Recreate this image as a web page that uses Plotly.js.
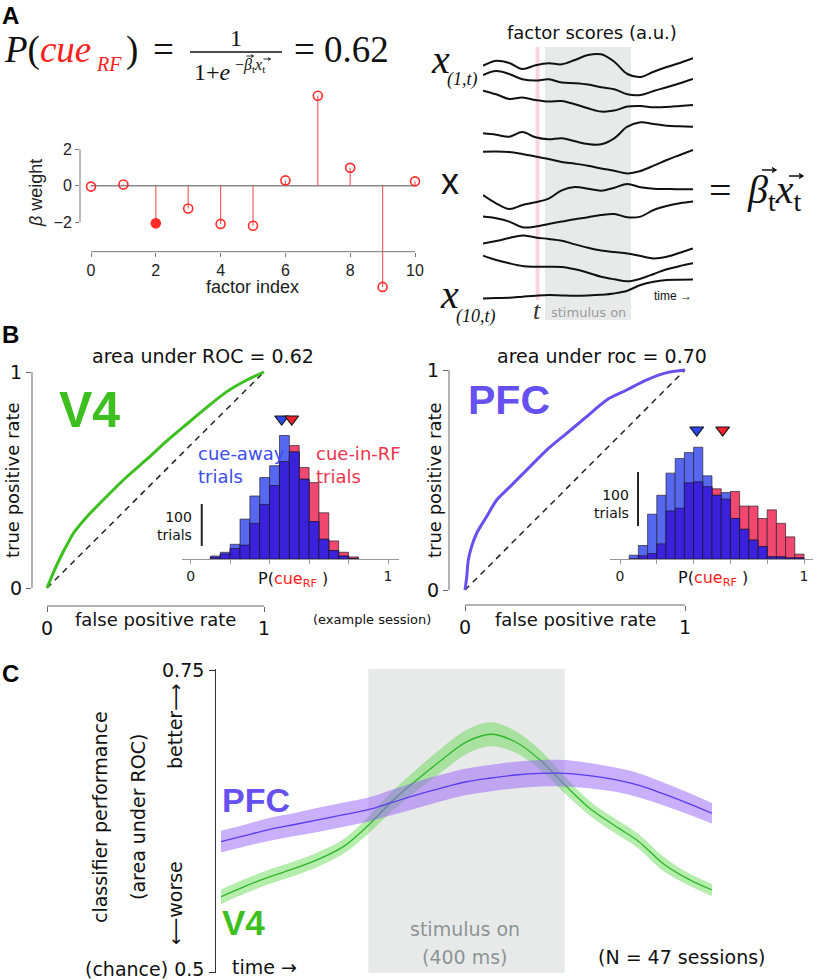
<!DOCTYPE html>
<html><head><meta charset="utf-8">
<script src="https://cdn.plot.ly/plotly-3.0.1.min.js"></script>
<style>html,body{margin:0;padding:0;background:#fff}</style>
</head><body><div id="chart" style="width:817px;height:980px"></div>
<script>
// ================= DATA =================
// Panel A: logistic classifier weights
const factorIndex = [0,1,2,3,4,5,6,7,8,9,10];
const betaWeight  = [-0.05,0.07,-2.07,-1.25,-2.1,-2.2,0.29,4.94,0.98,-5.56,0.24];
const highlightedFactor = 2;

// Panel A: factor scores (a.u.) over time (0 = start, 1 = end of window)
const factorTime = [0,0.0625,0.125,0.1875,0.25,0.3125,0.375,0.4375,0.5,0.5625,0.625,0.6875,0.75,0.8125,0.875,0.9375,1];
const factor1  = [-0.07,0.43,0.2,-0.4,-0.03,0.17,0.07,0.5,1.0,1.07,0.33,-0.9,-1.2,-0.67,-0.2,0.2,0.67];
const factor2  = [0.83,1.23,0.93,0.4,0.27,0.4,0.07,0,-0.13,-0.4,-0.6,-1.1,-1.17,-0.77,-0.4,0,0.43];
const factor3  = [1.27,0.9,0.43,0.57,0.33,0.17,0.23,-0.1,-0.5,-0.83,-0.73,-0.33,-0.27,-0.4,-0.37,-0.27,-0.17];
const factor4  = [0.17,0.03,-0.17,0.3,-0.23,-0.43,-0.33,-0.63,-0.9,-0.93,-0.33,0.83,1.27,1.1,0.93,0.87,0.83];
const factor5  = [1.0,1.03,0.97,0.77,0.53,0.27,-0.03,-0.2,-0.4,-0.67,-0.9,-1.17,-0.93,-0.4,0.17,0.67,1.17];
const factor6  = [0,-0.83,-1.4,-1.0,-0.73,-0.37,0.47,0.8,0.63,0.43,0.73,1.1,0.77,0.63,0.6,0.57,0.57];
const factor7  = [0.17,0,-0.33,-0.9,-0.83,-0.57,-0.33,-0.1,0.1,0.33,0.43,0.1,0.17,0.83,1.23,1.5,1.67];
const factor8  = [0.33,0.57,0.87,1.13,0.93,0.77,0.6,0.23,-0.1,-0.37,-0.53,-0.67,-0.93,-1.17,-1.0,-0.6,-0.17];
const factor9  = [1.43,1.0,0.67,0.4,0.33,0.33,0.3,0.07,-0.27,-0.67,-0.93,-1.13,-0.87,-0.4,0.07,0.4,0.67];
const factor10 = [-0.67,-0.63,-0.6,-0.5,-0.4,-0.33,-0.37,-0.4,-0.37,-0.3,-0.17,0.1,0.67,1.0,1.17,1.2,1.23];
const factorStim = [0.295, 0.705];
const factorT = 0.26;

// Panel B: ROC curves
const rocFprV4  = [0,0.031,0.061,0.092,0.123,0.184,0.276,0.368,0.459,0.551,0.643,0.735,0.827,0.919,1];
const rocTprV4  = [0,0.075,0.14,0.2,0.255,0.33,0.425,0.515,0.595,0.68,0.758,0.835,0.908,0.962,1];
const rocFprPFC = [0,0.008,0.015,0.030,0.053,0.098,0.144,0.205,0.280,0.371,0.462,0.553,0.644,0.735,0.826,0.917,1];
const rocTprPFC = [0,0.061,0.136,0.197,0.258,0.333,0.409,0.470,0.545,0.636,0.712,0.788,0.864,0.909,0.955,0.988,1];

// Panel B: histograms of P(cue_RF), trials per bin (bin width 0.05)
const v4BinCenters  = [0.125,0.175,0.225,0.275,0.325,0.375,0.425,0.475,0.525,0.575,0.625,0.675,0.725,0.775,0.825];
const v4CueAway     = [7,16,35,95,150,194,222,294,255,190,89,47,20,7,1];
const v4CueInRF     = [4,12,25,33,85,130,175,232,270,218,182,110,43,16,5];
const pfcBinCenters = [0.075,0.125,0.175,0.225,0.275,0.325,0.375,0.425,0.475,0.525,0.575,0.625,0.675,0.725,0.775,0.825,0.875,0.925,0.975];
const pfcCueAway    = [7,25,83,118,159,186,197,207,154,118,123,75,55,35,23,4,4,2,2];
const pfcCueInRF    = [0,6,10,28,89,94,141,143,134,130,111,125,98,98,75,91,66,41,9];
const v4Means  = [0.461, 0.512];   // [cue-away, cue-in-RF]
const pfcMeans = [0.417, 0.558];

// Panel C: classifier performance over time
const timeMs = [-300,-250,-200,-150,-100,-50,0,50,100,150,200,250,300,350,400,450,500,550,600,650,700];
const v4Auc  = [0.5623,0.5711,0.5790,0.5857,0.5936,0.6040,0.6215,0.6420,0.6594,0.6757,0.6905,0.6968,0.6904,0.6755,0.6550,0.6358,0.6217,0.6083,0.5899,0.5773,0.5679];
const v4Sem  = [0.006,0.006,0.006,0.006,0.006,0.006,0.007,0.008,0.009,0.010,0.010,0.010,0.009,0.008,0.007,0.006,0.006,0.006,0.006,0.005,0.005];
const pfcAuc = [0.6079,0.6131,0.6181,0.6221,0.6262,0.6303,0.6344,0.6406,0.6468,0.6525,0.6575,0.6606,0.6631,0.6645,0.6645,0.6626,0.6594,0.6546,0.6476,0.6398,0.6314];
const pfcSem = [0.009,0.009,0.0095,0.0095,0.010,0.010,0.010,0.0105,0.011,0.011,0.011,0.011,0.011,0.011,0.011,0.0105,0.010,0.010,0.0095,0.009,0.0085];
const stimWindowMs = [0, 400];
const aucTickVals = [0.5, 0.75];
const aucTickText = ['(chance) 0.5', '0.75'];

// ================= LAYOUT HELPERS =================
const W = 817, H = 980;
const X = p => p / W, Y = p => 1 - p / H;
function hAxis(pA, pB, vA, vB, dL, dR) {
  const s = (pB - pA) / (vB - vA);
  return {domain: [dL / W, dR / W], range: [vA + (dL - pA) / s, vA + (dR - pA) / s]};
}
function vAxis(pA, pB, vA, vB, dT, dB) {
  const s = (pA - pB) / (vB - vA);
  return {domain: [1 - dB / H, 1 - dT / H], range: [vA - (dB - pA) / s, vA + (pA - dT) / s]};
}
const SANS = 'DejaVu Sans', ARIAL = 'Liberation Sans', SERIF = 'Liberation Serif';
const GREEN = '#3dbf1f', PURPLE = '#6650f0', RED = '#ff2a2a';
const BLUE_ONLY = '#5668f0', OVERLAP = '#3a22dc', RED_ONLY = '#f0486e';

const traces = [];
const shapes = [];
const ann = [];
function A(text, x, y, o) { ann.push(Object.assign({text, x: X(x), y: Y(y), xref: 'paper', yref: 'paper', showarrow: false, xanchor: 'center', yanchor: 'middle', font: {family: SANS, size: 18, color: '#111'}}, o || {})); }
// small vector arrow (math notation) drawn as a shape path
function vec(cx, cy, len, head, w) {
  const x0 = X(cx - len / 2), x1 = X(cx + len / 2), y = Y(cy), hx = X(cx + len / 2 - head), hy = head * 0.6 / H;
  shapes.push({type: 'path', xref: 'paper', yref: 'paper', path: `M ${x0},${y} L ${x1},${y} M ${hx},${y + hy} L ${x1},${y} L ${hx},${y - hy}`, line: {color: '#111', width: w}});
}

const baseAxis = {showgrid: false, zeroline: false, showline: false, ticks: '', fixedrange: true, ticklabeloverflow: 'allow'};

// ---------- Panel A: stem plot ----------
const ax1x = hAxis(91, 415, 0, 10, 80, 425), ax1y = vAxis(185.7, 149.3, 0, 2, 85, 300);
const stemX = [], stemY = [];
factorIndex.forEach((f, i) => { stemX.push(f, f, null); stemY.push(0, betaWeight[i], null); });
traces.push({x: stemX, y: stemY, mode: 'lines', line: {color: 'rgba(240,70,70,0.85)', width: 1.2}, xaxis: 'x', yaxis: 'y', hoverinfo: 'skip'});
traces.push({x: factorIndex, y: betaWeight, mode: 'markers', cliponaxis: false, xaxis: 'x', yaxis: 'y',
  marker: {symbol: factorIndex.map(f => f === highlightedFactor ? 'circle' : 'circle-open'), size: 9, color: RED, line: {color: RED, width: 1.6}}});
shapes.push({type: 'line', xref: 'x', yref: 'y', x0: 0, x1: 10, y0: 0, y1: 0, line: {color: '#8a8a8a', width: 1.5}, layer: 'below'});
shapes.push({type: 'line', xref: 'x domain', yref: 'y', x0: 0, x1: 0, y0: -2, y1: 2, line: {color: '#777', width: 1}});
shapes.push({type: 'line', xref: 'x', yref: 'paper', x0: 0, x1: 10, y0: Y(251.7), y1: Y(251.7), line: {color: '#777', width: 1}});

// ---------- Panel A: factor scores ----------
const factorRowPx = [65, 83.3, 103.3, 135, 161.7, 195, 218.3, 246.7, 270, 291.7];
const pxPerAU = 10;
[factor1, factor2, factor3, factor4, factor5, factor6, factor7, factor8, factor9, factor10].forEach((f, i) => {
  traces.push({x: factorTime, y: f.map(v => -factorRowPx[i] + v * pxPerAU), mode: 'lines', line: {color: '#111', width: 2, shape: 'spline', smoothing: 1}, xaxis: 'x2', yaxis: 'y2', hoverinfo: 'skip'});
});
shapes.push({type: 'rect', xref: 'x2', yref: 'y2', x0: factorStim[0], x1: factorStim[1], y0: -320, y1: -47, fillcolor: '#e8eaea', line: {width: 0}, layer: 'below'});
shapes.push({type: 'line', xref: 'x2', yref: 'y2', x0: factorT, x1: factorT, y0: -300, y1: -47, line: {color: '#fbd3e1', width: 4}, layer: 'below'});

// ---------- Panel B: ROC ----------
function roc(fpr, tpr, color, xa, ya) {
  traces.push({x: [0, 1], y: [0, 1], mode: 'lines', line: {color: '#222', width: 1.5, dash: '6px,5px'}, xaxis: xa, yaxis: ya, hoverinfo: 'skip'});
  traces.push({x: fpr, y: tpr, mode: 'lines', line: {color, width: 3, shape: 'spline', smoothing: 0.8}, xaxis: xa, yaxis: ya, hoverinfo: 'skip'});
  shapes.push({type: 'line', xref: xa + ' domain', yref: ya, x0: 0, x1: 0, y0: 0, y1: 1, line: {color: '#666', width: 1}});
  shapes.push({type: 'line', xref: xa, yref: ya + ' domain', x0: 0, x1: 1, y0: 0, y1: 0, line: {color: '#666', width: 1}});
}
roc(rocFprV4, rocTprV4, GREEN, 'x3', 'y3');
roc(rocFprPFC, rocTprPFC, PURPLE, 'x5', 'y5');

// ---------- Panel B: histograms ----------
function hist(centers, away, inrf, means, xa, ya, triY, scaleX, scaleY0) {
  const common = {type: 'bar', x: centers, width: 0.05, xaxis: xa, yaxis: ya, hoverinfo: 'skip'};
  traces.push(Object.assign({}, common, {y: inrf, marker: {color: RED_ONLY, line: {color: 'rgba(40,30,40,0.85)', width: 0.8}}}));
  traces.push(Object.assign({}, common, {y: away, marker: {color: BLUE_ONLY, line: {color: 'rgba(40,30,40,0.85)', width: 0.8}}}));
  traces.push(Object.assign({}, common, {y: away.map((v, i) => Math.min(v, inrf[i])), marker: {color: OVERLAP, line: {color: 'rgba(30,20,40,0.85)', width: 0.8}}}));
  traces.push({x: means, y: [triY, triY], mode: 'markers', cliponaxis: false, xaxis: xa, yaxis: ya, hoverinfo: 'skip',
    marker: {symbol: 'triangle-down', size: 12, color: ['#2f45ee', '#f0202c'], line: {color: '#111', width: 1.2}}});
  shapes.push({type: 'line', xref: xa, yref: ya, x0: scaleX, x1: scaleX, y0: scaleY0, y1: scaleY0 + 100, line: {color: '#222', width: 2}});
}
const ax4x = hAxis(190.7, 388, 0, 1, 182, 399), ax4y = vAxis(559, 517, 0, 100, 400, 559);
const ax6x = hAxis(620, 804, 0, 1, 610, 813), ax6y = vAxis(559, 505, 0, 100, 400, 559);
hist(v4BinCenters, v4CueAway, v4CueInRF, v4Means, 'x4', 'y4', (559 - 419) / 0.42, 0.056, 31);
hist(pfcBinCenters, pfcCueAway, pfcCueInRF, pfcMeans, 'x6', 'y6', (559 - 430) / 0.54, 0.098, 61);

// ---------- Panel C ----------
function band(mean, sem, fill, line, xa, ya) {
  const up = mean.map((m, i) => m + sem[i]), lo = mean.map((m, i) => m - sem[i]);
  traces.push({x: timeMs, y: lo, mode: 'lines', line: {width: 0, shape: 'spline'}, xaxis: xa, yaxis: ya, hoverinfo: 'skip'});
  traces.push({x: timeMs, y: up, mode: 'lines', fill: 'tonexty', fillcolor: fill, line: {width: 0, shape: 'spline'}, xaxis: xa, yaxis: ya, hoverinfo: 'skip'});
  traces.push({x: timeMs, y: mean, mode: 'lines', line: {color: line, width: 1.3, shape: 'spline'}, xaxis: xa, yaxis: ya, hoverinfo: 'skip'});
}
band(v4Auc, v4Sem, 'rgba(90,215,70,0.45)', '#2eb52a', 'x7', 'y7');
band(pfcAuc, pfcSem, 'rgba(150,95,245,0.5)', '#5a3cf0', 'x7', 'y7');
const ax7x = hAxis(221, 712, -300, 700, 216, 716), ax7y = vAxis(972, 670, 0.5, 0.75, 669, 973);
shapes.push({type: 'rect', xref: 'x7', yref: 'y7 domain', x0: stimWindowMs[0], x1: stimWindowMs[1], y0: 0, y1: 1, fillcolor: '#e8eaea', line: {width: 0}, layer: 'below'});
aucTickVals.forEach((v, i) => {
  ann.push({text: aucTickText[i], xref: 'paper', yref: 'y7', x: X(206), y: v, yshift: i === 0 ? 3 : 0, showarrow: false, xanchor: 'right', yanchor: 'middle', font: {family: SANS, size: 19, color: '#111'}});
});

// ---------- Annotations ----------
A('<b>A</b>', 10, 16, {font: {family: ARIAL, size: 24, color: '#000'}});
A('<b>B</b>', 10, 334, {font: {family: ARIAL, size: 24, color: '#000'}});
A('<b>C</b>', 10, 673, {font: {family: ARIAL, size: 24, color: '#000'}});

// formula
A('<i>P</i>(<span style="color:#ff2020"><i>cue</i></span>', 2, 50, {xanchor: 'left', font: {family: SERIF, size: 37, color: '#111'}});
A('<i>RF</i>', 94, 64, {xanchor: 'left', font: {family: SERIF, size: 20, color: '#ff2020'}});
A(')', 124, 50, {xanchor: 'left', font: {family: SERIF, size: 37, color: '#111'}});
A('=', 163, 50, {font: {family: SERIF, size: 37, color: '#111'}});
A('1', 236, 38, {font: {family: SERIF, size: 24, color: '#111'}});
shapes.push({type: 'line', xref: 'paper', yref: 'paper', x0: X(190), x1: X(282), y0: Y(52), y1: Y(52), line: {color: '#111', width: 1.3}});
A('1+<i>e</i>', 233, 72, {xanchor: 'right', font: {family: SERIF, size: 24, color: '#111'}});
A('−<i>β</i><sub>t</sub><i>x</i><sub>t</sub>', 233, 65, {xanchor: 'left', font: {family: SERIF, size: 16, color: '#111'}});
vec(250, 56, 7, 2.5, 0.9);
vec(267, 59, 7, 2.5, 0.9);
A('= 0.62', 292, 50, {xanchor: 'left', font: {family: SERIF, size: 37, color: '#111'}});

// stem axes labels
A('<i>β</i> weight', 36, 193, {textangle: -90, font: {family: ARIAL, size: 18, color: '#222'}});
A('factor index', 252, 287, {font: {family: ARIAL, size: 18, color: '#222'}});

// factor scores labels
A('factor scores (a.u.)', 592, 33, {font: {family: SANS, size: 18, color: '#111'}});
A('<i>x</i>', 440, 60, {font: {family: SERIF, size: 40, color: '#111'}});
A('<i>(1,t)</i>', 445, 80, {xanchor: 'left', font: {family: SERIF, size: 18, color: '#111'}});
A('<i>x</i>', 450, 294, {font: {family: SERIF, size: 40, color: '#111'}});
A('<i>(10,t)</i>', 454, 316, {xanchor: 'left', font: {family: SERIF, size: 18, color: '#111'}});
A('x', 450, 181, {font: {family: ARIAL, size: 36, color: '#111'}});
A('=', 720, 190, {font: {family: SERIF, size: 40, color: '#111'}});
A('<i>β</i><sub>t</sub><i>x</i><sub>t</sub>', 745, 192, {xanchor: 'left', font: {family: SERIF, size: 40, color: '#111'}});
vec(769, 170, 14, 4, 1.3);
vec(796, 176, 14, 4, 1.3);
A('<i>t</i>', 537, 311, {font: {family: SERIF, size: 26, color: '#333'}});
A('stimulus on', 588, 312, {font: {family: SANS, size: 13, color: '#9a9a9a'}});
A('time →', 673, 296, {font: {family: ARIAL, size: 12, color: '#111'}});

// panel B
A('area under ROC = 0.62', 203, 356, {font: {family: SANS, size: 19, color: '#111'}});
A('area under roc = 0.70', 602, 356, {font: {family: SANS, size: 19, color: '#111'}});
A('<b>V4</b>', 57, 410, {xanchor: 'left', font: {family: ARIAL, size: 50, color: GREEN}});
A('<b>PFC</b>', 466, 400, {xanchor: 'left', font: {family: ARIAL, size: 41, color: PURPLE}});
A('true positive rate', 12, 480, {textangle: -90, font: {family: SANS, size: 18, color: '#111'}});
A('true positive rate', 434, 480, {textangle: -90, font: {family: SANS, size: 18, color: '#111'}});
A('false positive rate', 155, 619, {font: {family: SANS, size: 18, color: '#111'}});
A('false positive rate', 575, 619, {font: {family: SANS, size: 18, color: '#111'}});
A('(example session)', 372, 619, {font: {family: SANS, size: 13, color: '#111'}});
A('cue-away<br>trials', 196, 465, {xanchor: 'left', align: 'left', font: {family: SANS, size: 18, color: '#3b4cf0'}});
A('cue-in-RF<br>trials', 314, 465, {xanchor: 'left', align: 'left', font: {family: SANS, size: 18, color: '#f0334f'}});
A('100<br>trials', 194, 526, {xanchor: 'right', align: 'right', font: {family: SANS, size: 14, color: '#111'}});
A('100<br>trials', 631, 504, {xanchor: 'right', align: 'right', font: {family: SANS, size: 14, color: '#111'}});
A('P(<span style="color:#ff2020">cue<sub>RF</sub></span> )', 293, 579, {font: {family: SANS, size: 16, color: '#111'}});
A('P(<span style="color:#ff2020">cue<sub>RF</sub></span> )', 713, 578, {font: {family: SANS, size: 16, color: '#111'}});

// panel C
A('classifier performance', 100, 817, {textangle: -90, font: {family: SANS, size: 19, color: '#111'}});
A('(area under ROC)', 138, 817, {textangle: -90, font: {family: SANS, size: 19, color: '#111'}});
A('better⟶', 175, 727, {textangle: -90, font: {family: SANS, size: 19, color: '#111'}});
A('⟵worse', 175, 903, {textangle: -90, font: {family: SANS, size: 19, color: '#111'}});
A('<b>PFC</b>', 220, 800, {xanchor: 'left', font: {family: ARIAL, size: 34, color: PURPLE}});
A('<b>V4</b>', 220, 922, {xanchor: 'left', font: {family: ARIAL, size: 35, color: GREEN}});
A('stimulus on', 465, 929, {font: {family: SANS, size: 19, color: '#8c9494'}});
A('(400 ms)', 465, 957, {font: {family: SANS, size: 19, color: '#8c9494'}});
A('(N = 47 sessions)', 681, 957, {font: {family: SANS, size: 19, color: '#111'}});
A('time →', 230, 967, {xanchor: 'left', font: {family: SANS, size: 19, color: '#111'}});

const tickFontS = {family: ARIAL, size: 16, color: '#222'};
const tickFontB = {family: SANS, size: 19, color: '#111'};
const insetX = {showline: true, linecolor: '#999', linewidth: 1, tickvals: [0, 1], ticks: 'outside', ticklen: 4, tickcolor: '#999',
  minor: {tickmode: 'array', tickvals: [0.2, 0.4, 0.6, 0.8], ticks: 'outside', ticklen: 4, tickcolor: '#999'},
  tickfont: {family: SANS, size: 14, color: '#222'}};
const layout = {
  width: W, height: H, margin: {l: 0, r: 0, t: 0, b: 0},
  paper_bgcolor: '#fff', plot_bgcolor: 'rgba(0,0,0,0)', showlegend: false, barmode: 'overlay',
  font: {family: SANS, color: '#111'},
  xaxis: Object.assign({}, baseAxis, ax1x, {anchor: 'free', position: Y(251.7), tickvals: [0,2,4,6,8,10], ticks: 'outside', ticklen: 4, tickcolor: '#777', tickfont: tickFontS}),
  yaxis: Object.assign({}, baseAxis, ax1y, {anchor: 'x', tickvals: [-2,0,2], ticks: 'outside', ticklen: 4, tickcolor: '#777', tickfont: tickFontS}),
  xaxis2: Object.assign({}, baseAxis, hAxis(483, 693, 0, 1, 483, 693), {anchor: 'y2', visible: false}),
  yaxis2: Object.assign({}, baseAxis, {domain: [1 - 330 / H, 1 - 40 / H], range: [-330, -40], anchor: 'x2', visible: false}),
  xaxis3: Object.assign({}, baseAxis, hAxis(47, 264, 0, 1, 32, 268), {anchor: 'y3', tickvals: [0, 1], ticks: 'outside', ticklen: 5, tickcolor: '#666', tickfont: tickFontB}),
  yaxis3: Object.assign({}, baseAxis, vAxis(588, 372, 0, 1, 368, 606), {anchor: 'x3', tickvals: [0, 1], ticks: 'outside', ticklen: 5, tickcolor: '#666', tickfont: tickFontB}),
  xaxis4: Object.assign({}, baseAxis, ax4x, {anchor: 'y4'}, insetX),
  yaxis4: Object.assign({}, baseAxis, ax4y, {anchor: 'x4', visible: false}),
  xaxis5: Object.assign({}, baseAxis, hAxis(465, 685, 0, 1, 449, 689), {anchor: 'y5', tickvals: [0, 1], ticks: 'outside', ticklen: 5, tickcolor: '#666', tickfont: tickFontB}),
  yaxis5: Object.assign({}, baseAxis, vAxis(590, 370, 0, 1, 366, 605), {anchor: 'x5', tickvals: [0, 1], ticks: 'outside', ticklen: 5, tickcolor: '#666', tickfont: tickFontB}),
  xaxis6: Object.assign({}, baseAxis, ax6x, {anchor: 'y6'}, insetX),
  yaxis6: Object.assign({}, baseAxis, ax6y, {anchor: 'x6', visible: false}),
  xaxis7: Object.assign({}, baseAxis, ax7x, {anchor: 'y7', visible: false}),
  yaxis7: Object.assign({}, baseAxis, ax7y, {anchor: 'x7', showline: true, linecolor: '#333', linewidth: 1.2, tickvals: aucTickVals, showticklabels: false, ticks: 'outside', ticklen: 6, tickcolor: '#333'}),
  shapes, annotations: ann
};
Plotly.newPlot('chart', traces, layout, {staticPlot: true});
</script></body></html>
